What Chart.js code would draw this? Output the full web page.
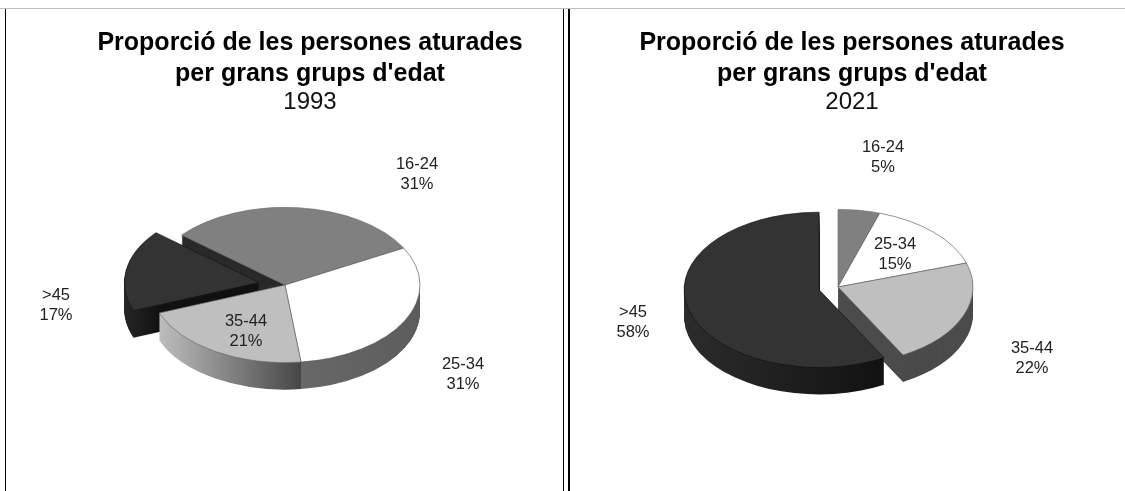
<!DOCTYPE html>
<html>
<head>
<meta charset="utf-8">
<title>Proporció de les persones aturades</title>
<script src="https://cdn.jsdelivr.net/npm/chart.js@4"></script>
<style>
  html, body { margin: 0; padding: 0; background: #fff; overflow: hidden; }
  #page { position: relative; width: 1125px; height: 491px; }
  canvas { position: absolute; top: 0; }
  #chart1993 { left: 0; }
  #chart2021 { left: 579px; }
  .rule { position: absolute; background: #000; }
</style>
</head>
<body>
<div id="page">
  <div class="rule" style="left:0;top:8px;width:1125px;height:1px;background:#bdbdbd"></div>
  <div class="rule" style="left:5px;top:9px;width:1px;height:482px"></div>
  <div class="rule" style="left:563px;top:9px;width:1px;height:482px"></div>
  <div class="rule" style="left:568px;top:9px;width:2px;height:482px"></div>
  <canvas id="chart1993" width="620" height="491"></canvas>
  <canvas id="chart2021" width="546" height="491"></canvas>
</div>

<script>
// data
const categories = ['16-24', '25-34', '35-44', '>45'];
const values1993 = [31, 31, 21, 17];
const values2021 = [5, 15, 22, 58];
const titleLines = ['Proporció de les persones aturades', "per grans grups d'edat"];

const topColors = ['#808080', '#ffffff', '#bfbfbf', '#333333'];
const edgeColors = ['#6e6e6e', '#555555', '#666666', '#111111'];

const squash = 0.575;
const depth = 27;

// draws the flat pie squashed, with the side walls stacked under it
const fakePie3d = {
  id: 'fakePie3d',
  afterDatasetsUpdate(chart, args, opts) {
    const arcs = chart.getDatasetMeta(0).data;
    arcs.forEach((arc, i) => {
      const mid = (arc.startAngle + arc.endAngle) / 2;
      arc.x += Math.cos(mid) * opts.explode[i];
      arc.y += Math.sin(mid) * opts.explode[i];
    });
  },
  beforeDatasetDraw(chart, args, opts) {
    const ctx = chart.ctx;
    const area = chart.chartArea;
    const cx = (area.left + area.right) / 2;
    const cy = (area.top + area.bottom) / 2;
    const arcs = chart.getDatasetMeta(0).data;

    const moveToPie = (shift) => {
      ctx.translate(opts.pieX, opts.pieY + shift);
      ctx.scale(1, squash);
      ctx.translate(-cx, -cy);
    };

    opts.sideOrder.forEach((i) => {
      const arc = arcs[i];
      const side = opts.sides[i];
      let fill = side[0];
      if (side.length > 1) {
        fill = ctx.createLinearGradient(cx + side[2], 0, cx + side[3], 0);
        fill.addColorStop(0, side[0]);
        fill.addColorStop(1, side[1]);
      }
      const topOptions = arc.options;
      arc.options = Object.assign({}, topOptions, { backgroundColor: fill, borderWidth: 0 });
      for (let k = depth; k >= 1; k--) {
        ctx.save();
        moveToPie(k);
        arc.draw(ctx);
        ctx.restore();
      }
      arc.options = topOptions;
    });

    ctx.save();
    moveToPie(0);
  },
  afterDatasetDraw(chart) {
    chart.ctx.restore();
  },
  afterDraw(chart, args, opts) {
    const ctx = chart.ctx;
    const values = chart.data.datasets[0].data;
    ctx.save();
    ctx.font = '16.5px "Liberation Sans", Arial, sans-serif';
    ctx.fillStyle = '#222';
    ctx.textAlign = 'center';
    ctx.textBaseline = 'middle';
    chart.data.labels.forEach((name, i) => {
      const pos = opts.labelSpots[i];
      ctx.fillText(name, pos[0], pos[1]);
      ctx.fillText(values[i] + '%', pos[0], pos[1] + 20);
    });
    ctx.restore();
  }
};

function makePie(canvasId, values, year, rotation, plugin3d) {
  const ctx = document.getElementById(canvasId).getContext('2d');
  new Chart(ctx, {
    type: 'pie',
    data: {
      labels: categories,
      datasets: [{
        data: values,
        backgroundColor: topColors,
        borderColor: edgeColors,
        borderWidth: 0.8,
        borderAlign: 'center',
        clip: false
      }]
    },
    options: {
      responsive: false,
      animation: false,
      events: [],
      rotation: rotation,
      radius: 135,
      layout: { padding: 0 },
      plugins: {
        legend: { display: false },
        tooltip: { enabled: false },
        title: {
          display: true,
          text: titleLines,
          color: '#000',
          font: { family: '"Liberation Sans", Arial, sans-serif', size: 25, weight: 'bold', lineHeight: 1.24 },
          padding: { top: 28, bottom: 0 }
        },
        subtitle: {
          display: true,
          text: year,
          color: '#111',
          font: { family: '"Liberation Sans", Arial, sans-serif', size: 24, weight: 'normal', lineHeight: 1 },
          padding: { top: 0, bottom: 0 }
        },
        fakePie3d: plugin3d
      }
    },
    plugins: [fakePie3d]
  });
}

makePie('chart1993', values1993, '1993', 310, {
  pieX: 285,
  pieY: 285,
  explode: [0, 0, 0, 26],
  sideOrder: [0, 3, 1, 2],
  sides: [['#2a2a2a'], ['#686868', '#5c5c5c', 14, 135], ['#bdbdbd', '#484848', -125, 14], ['#262626', '#111111', -161, -125]],
  labelSpots: [[417, 164], [463, 364], [246, 321], [56, 295]]
});

makePie('chart2021', values2021, '2021', 0, {
  pieX: 259,
  pieY: 287,
  explode: [0, 0, 0, 19.5],
  sideOrder: [0, 1, 2, 3],
  sides: [['#555555'], ['#666666'], ['#4b4b4b'], ['#2c2c2c', '#111111', -155, 50]],
  labelSpots: [[304, 147], [316, 244], [453, 348], [54, 312]]
});
</script>
</body>
</html>
